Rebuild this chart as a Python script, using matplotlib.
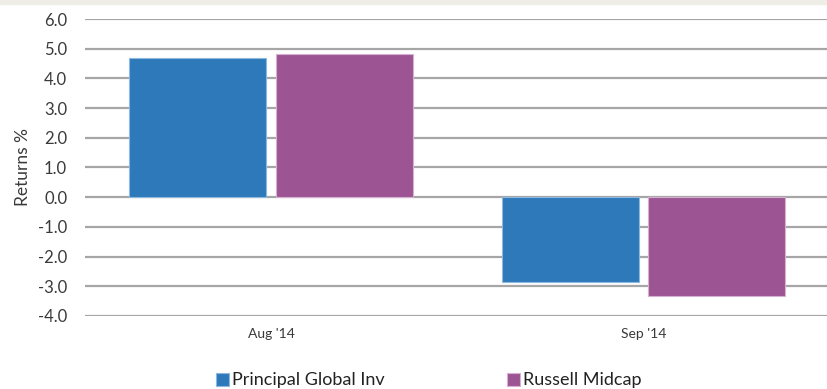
import numpy as np
import matplotlib.pyplot as plt
from matplotlib.patches import Rectangle

months = ["Aug '14", "Sep '14"]
principal = [4.70, -2.85]
russell = [4.81, -3.33]
series_names = ["Principal Global Inv", "Russell Midcap"]
yticks = [-4.0, -3.0, -2.0, -1.0, 0.0, 1.0, 2.0, 3.0, 4.0, 5.0, 6.0]

blue = '#2e79b9'
purple = '#9c5493'
plt.rcParams['font.family'] = ['Lato', 'DejaVu Sans']

fig = plt.figure(figsize=(8.27, 3.89), dpi=100)
fig.patch.set_facecolor('white')
# thin beige band along the top edge
fig.patches.append(Rectangle((0, 0.99), 1, 0.01, transform=fig.transFigure,
                             color='#efeee6', zorder=0))

ax = fig.add_axes([0.103, 0.188, 0.90, 0.763])
x = np.arange(len(months))
w = 0.368
off = 0.197
ax.bar(x - off, principal, w, color=blue, edgecolor='#8fb8de', linewidth=0.8,
       zorder=3, label=series_names[0])
ax.bar(x + off, russell, w, color=purple, edgecolor='#d5b0d0', linewidth=0.8,
       zorder=3, label=series_names[1])

ax.set_xlim(-0.5, 1.5)
ax.set_ylim(-4, 6)
ax.set_yticks(yticks)
ax.set_yticklabels([f'{t:.1f}' for t in yticks], fontsize=12, color='#3a3a3a')
ax.set_xticks(x)
ax.set_xticklabels(months, fontsize=10, color='#3a3a3a')
ax.tick_params(length=0)
ax.tick_params(axis='y', pad=13)
ax.tick_params(axis='x', pad=9)
ax.yaxis.grid(True, color='#a6a6a6', linewidth=1.6, zorder=0)
for s in ax.spines.values():
    s.set_visible(False)
ax.set_ylabel('Returns %', fontsize=12.5, color='#3a3a3a', labelpad=5)

fig.legend(loc='center left', bbox_to_anchor=(0.261, 0.022), ncol=2, frameon=False,
           fontsize=13, handlelength=0.75, handleheight=0.75, handletextpad=0.15,
           columnspacing=6.75, labelcolor='#222222', borderaxespad=0, borderpad=0)

fig.savefig('out.png', dpi=100)
